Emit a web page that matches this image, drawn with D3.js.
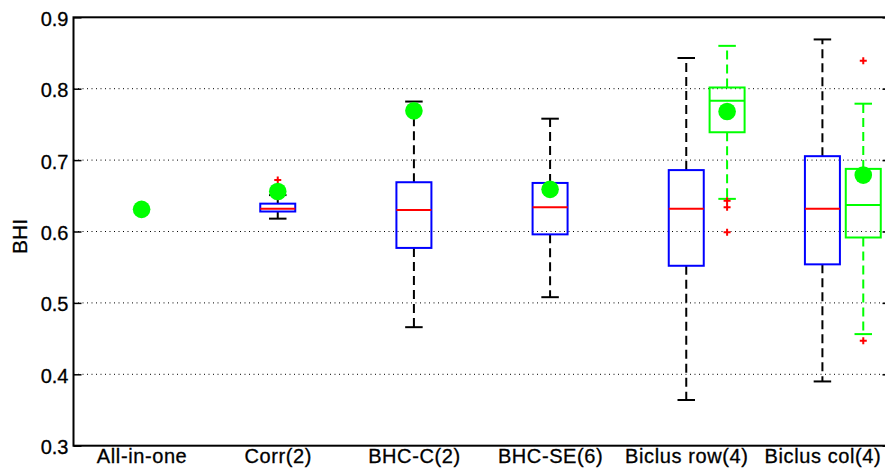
<!DOCTYPE html>
<html><head><meta charset="utf-8">
<script src="https://cdn.jsdelivr.net/npm/d3@7/dist/d3.min.js"></script>
<style>
html,body{margin:0;padding:0;background:#fff;}
svg{display:block;}
text{font-family:"Liberation Sans",Arial,Helvetica,sans-serif;fill:#000;}
</style></head>
<body>
<script>
// ---- data ----
const categories = ["All-in-one","Corr(2)","BHC-C(2)","BHC-SE(6)","Biclus row(4)","Biclus col(4)"];
const yTicks = [0.3,0.4,0.5,0.6,0.7,0.8,0.9];
const yTickLabels = ["0.3","0.4","0.5","0.6","0.7","0.8","0.9"];
// blue box series (null = no box)
const boxLow    = [null, 0.618, 0.466, 0.508, 0.364, 0.390];
const boxQ1     = [null, 0.628, 0.577, 0.596, 0.552, 0.554];
const boxMedian = [null, 0.632, 0.630, 0.634, 0.632, 0.632];
const boxQ3     = [null, 0.639, 0.669, 0.668, 0.686, 0.7055];
const boxHigh   = [null, 0.651, 0.782, 0.758, 0.843, 0.869];
const boxOutliers = [[], [0.672], [], [], [], []];
// green box series (only for the biclustering categories)
const greenCategories = ["Biclus row(4)","Biclus col(4)"];
const greenLow    = [0.6457, 0.4563];
const greenQ1     = [0.739, 0.5916];
const greenMedian = [0.783, 0.637];
const greenQ3     = [0.8017, 0.6877];
const greenHigh   = [0.860, 0.779];
const greenOutliers = [[0.643, 0.634, 0.599], [0.839, 0.447]];
const greenShift = 0.3;
// green dots
const dotValues = [0.631, 0.656, 0.769, 0.659, 0.768, 0.679];
const dotShift  = [0, 0, 0, 0, 0.3, 0.3];

(function () {
// ---- layout ----
const W = 885, H = 468;
const svg = d3.select("body").append("svg").attr("width", W).attr("height", H);
const pL = 73.5, pR = 890.5, pT = 17.3, pB = 445.7;
const x = d3.scaleLinear().domain([0.5, categories.length + 0.5]).range([pL, pR]);
const y = d3.scaleLinear().domain([0.3, 0.9]).range([pB, pT]);
const boxW = 35, capW = 17.5;

// grid
svg.append("g").selectAll("line").data(yTicks.filter(v => v > 0.3 && v < 0.9)).join("line")
  .attr("x1", pL).attr("x2", pR).attr("y1", d => y(d)).attr("y2", d => y(d))
  .attr("stroke", "#000").attr("stroke-width", 1).attr("stroke-dasharray", "1,3.5");

// axes
const yAxis = d3.axisLeft(y).tickValues(yTicks).tickFormat((d,i) => yTickLabels[i]).tickSize(-8).tickPadding(5);
const gy = svg.append("g").attr("transform", `translate(${pL},0)`).call(yAxis);
gy.select(".domain").remove();
gy.selectAll(".tick line").attr("stroke", "#000").attr("stroke-width", 1.5);
gy.selectAll(".tick text").attr("font-size", 20).attr("dy", "0.4em")
  .attr("stroke", "#000").attr("stroke-width", 0.3)
  .style("font-family", '"Liberation Sans",Arial,sans-serif');
const yAxisR = d3.axisRight(y).tickValues(yTicks).tickFormat("").tickSize(-8);
const gyr = svg.append("g").attr("transform", `translate(${pR},0)`).call(yAxisR);
gyr.select(".domain").remove();
gyr.selectAll(".tick line").attr("stroke", "#000").attr("stroke-width", 1.5);

const xAxis = d3.axisBottom(x).tickValues(d3.range(1, categories.length + 1))
  .tickFormat((d) => categories[d - 1]).tickSize(0).tickPadding(3);
const gx = svg.append("g").attr("transform", `translate(0,${pB})`).call(xAxis);
gx.select(".domain").remove();
gx.selectAll(".tick text").attr("font-size", 20).attr("letter-spacing", "0.6px")
  .attr("stroke", "#000").attr("stroke-width", 0.3)
  .style("font-family", '"Liberation Sans",Arial,sans-serif');

// frame
svg.append("rect").attr("x", pL).attr("y", pT).attr("width", pR - pL).attr("height", pB - pT)
  .attr("fill", "none").attr("stroke", "#000").attr("stroke-width", 2);

// y label
svg.append("text").attr("transform", `translate(26.5,${(pT + pB) / 2 + 5}) rotate(-90)`)
  .attr("text-anchor", "middle").attr("font-size", 21)
  .attr("stroke", "#000").attr("stroke-width", 0.3).text("BHI");

function plus(g, cx, v) {
  const py = y(v);
  g.append("path").attr("d", `M${cx - 3.5},${py}H${cx + 3.5}M${cx},${py - 3.5}V${py + 3.5}`)
    .attr("stroke", "#ff0000").attr("stroke-width", 2).attr("fill", "none");
}

// boxplot drawer
function drawBox(g, cx, lo, q1, med, q3, hi, outs, boxColor, medColor, whiskColor) {
  const dash = "9,5";
  g.append("line").attr("x1", cx).attr("x2", cx).attr("y1", y(q3)).attr("y2", y(hi))
    .attr("stroke", whiskColor).attr("stroke-width", 2).attr("stroke-dasharray", dash);
  g.append("line").attr("x1", cx).attr("x2", cx).attr("y1", y(q1)).attr("y2", y(lo))
    .attr("stroke", whiskColor).attr("stroke-width", 2).attr("stroke-dasharray", dash);
  [hi, lo].forEach(v => g.append("line").attr("x1", cx - capW / 2).attr("x2", cx + capW / 2)
    .attr("y1", y(v)).attr("y2", y(v)).attr("stroke", whiskColor).attr("stroke-width", 2));
  g.append("rect").attr("x", cx - boxW / 2).attr("y", y(q3)).attr("width", boxW).attr("height", y(q1) - y(q3))
    .attr("fill", "none").attr("stroke", boxColor).attr("stroke-width", 2);
  g.append("line").attr("x1", cx - boxW / 2).attr("x2", cx + boxW / 2).attr("y1", y(med)).attr("y2", y(med))
    .attr("stroke", medColor).attr("stroke-width", 2);
  outs.forEach(v => plus(g, cx, v));
}

const gBoxes = svg.append("g");
categories.forEach((c, i) => {
  if (boxQ1[i] == null) return;
  drawBox(gBoxes, x(i + 1), boxLow[i], boxQ1[i], boxMedian[i], boxQ3[i], boxHigh[i], boxOutliers[i],
    "#0000ff", "#ff0000", "#000000");
});
const gGreen = svg.append("g");
greenCategories.forEach((c, j) => {
  const pos = categories.indexOf(c) + 1 + greenShift;
  drawBox(gGreen, x(pos), greenLow[j], greenQ1[j], greenMedian[j], greenQ3[j], greenHigh[j], greenOutliers[j],
    "#00ff00", "#00ff00", "#00ff00");
});

// dots
svg.append("g").selectAll("circle").data(dotValues).join("circle")
  .attr("cx", (d, i) => x(i + 1 + dotShift[i])).attr("cy", d => y(d)).attr("r", 8.8)
  .attr("fill", "#00ff00");
})();
</script>
</body></html>
